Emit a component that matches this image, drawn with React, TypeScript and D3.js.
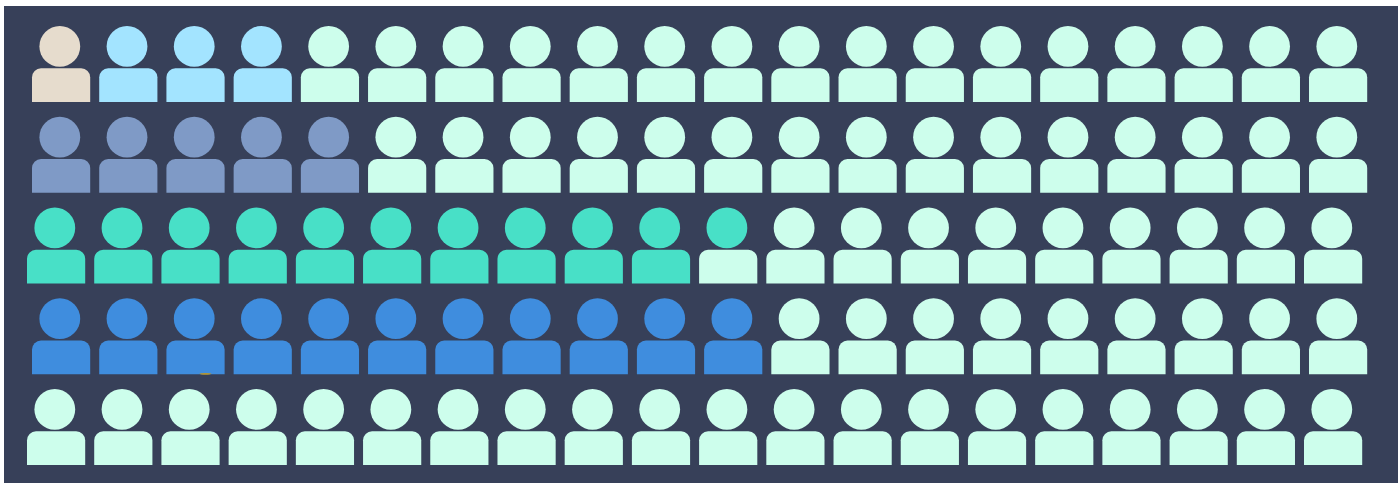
import React, { useEffect, useRef } from "react";
import * as d3 from "d3";

const W = 1398;
const H = 483;

const rows = [0, 1, 2, 3, 4];
const columns = d3.range(20);
const rowOffsets = [5, 5, 0, 5, 0];

// how many icons of each row are coloured, and with which colour
const rowCounts = [
  [1, 3],
  [5],
  [10],
  [11],
  [],
];
const rowColors = [
  ["#e6dccd", "#a3e4ff"],
  ["#7f9ac6"],
  ["#48e0c7"],
  ["#3f8dde"],
  [],
];
// heads coloured beyond the full icons: row 3 has one extra teal head
const extraHeads = [0, 0, 1, 0, 0];

const BG = "#374059";
const MINT = "#cdfeec";
const SPECK = "#b8962e";

function bodyPath(x: number, y: number, w: number, h: number, r: number) {
  const p = d3.path();
  p.moveTo(x, y + h);
  p.lineTo(x, y + r);
  p.arcTo(x, y, x + r, y, r);
  p.lineTo(x + w - r, y);
  p.arcTo(x + w, y, x + w, y + r, r);
  p.lineTo(x + w, y + h);
  p.closePath();
  return p.toString();
}

export default function App() {
  const ref = useRef<SVGSVGElement | null>(null);

  useEffect(() => {
    const svg = d3.select(ref.current);
    svg.selectAll("*").remove();

    svg
      .append("rect")
      .attr("x", 4)
      .attr("y", 6)
      .attr("width", W - 4)
      .attr("height", H - 6)
      .attr("fill", BG);

    const x = d3.scaleLinear().domain([0, 19]).range([27, 1304]);
    const y = d3.scaleLinear().domain([0, 4]).range([26, 389]);

    const iconW = 58.2;
    const headR = 20.4;
    const bodyTop = 42.3;
    const bodyH = 33.7;

    rows.forEach((row) => {
      const colors: string[] = [];
      rowCounts[row].forEach((n, i) => {
        d3.range(n).forEach(() => colors.push(rowColors[row][i]));
      });
      const full = colors.length;
      const g = svg.append("g");
      columns.forEach((col) => {
        const left = x(col) + rowOffsets[row];
        const top = y(row);
        const bodyFill = col < full ? colors[col] : MINT;
        const headFill =
          col < full
            ? colors[col]
            : col < full + extraHeads[row]
              ? rowColors[row][rowColors[row].length - 1]
              : MINT;
        g.append("circle")
          .attr("cx", left + 27.8)
          .attr("cy", top + 20.4)
          .attr("r", headR)
          .attr("fill", headFill);
        g.append("path")
          .attr("d", bodyPath(left, top + bodyTop, iconW, bodyH, 9))
          .attr("fill", bodyFill);
      });
    });

    // small gold speck at the foot of the third icon of the fourth row
    svg
      .append("ellipse")
      .attr("cx", x(2) + rowOffsets[3] + 39)
      .attr("cy", y(3) + 75.6)
      .attr("rx", 6)
      .attr("ry", 0.8)
      .attr("fill", SPECK);
  }, []);

  return (
    <svg
      ref={ref}
      width={W}
      height={H}
      style={{ position: "absolute", left: 0, top: 0, display: "block" }}
    />
  );
}
